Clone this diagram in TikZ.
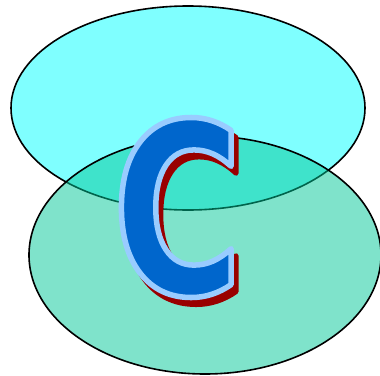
\documentclass[tikz,border=0pt]{standalone}
\usepackage{fontspec}
\usetikzlibrary{positioning}
\newfontfamily\logofont{DejaVu Sans}[FakeStretch=0.743]
\definecolor{mycyan}{RGB}{0,255,255}
\definecolor{mysea}{RGB}{0,200,152}
\definecolor{myblue}{RGB}{0,102,204}
\definecolor{myedge}{RGB}{153,204,255}
\definecolor{myshadow}{RGB}{153,0,0}
\tikzset{
  topdisc/.style={draw=black, line width=1.6pt, fill=mycyan, fill opacity=0.5},
  lowdisc/.style={draw=black, line width=1.6pt, fill=mysea, fill opacity=0.5},
  letter/.style={inner sep=0pt, font=\logofont\bfseries\fontsize{238}{238}\selectfont}
}
% outlined glyph: #1 = stroke width, #2 = stroke colour (rgb)
\newcommand{\strokedC}[2]{\special{pdf:literal direct 2 Tr 1 j 1 J #1 w #2 RG}C\special{pdf:literal direct 0 Tr}}

\begin{document}
\begin{tikzpicture}[x=1pt, y=-1pt]
  \useasboundingbox (0,0) rectangle (380,375);

  % Top ellipse
  \draw[topdisc] (188,108) ellipse [x radius=177, y radius=102];

  % Bottom ellipse
  \draw[lowdisc] (205,255) ellipse [x radius=176, y radius=119];

  % Letter with shadow
  \node[letter, text=myshadow] (shadow) at (182.5,214.5) {\strokedC{5}{0.6 0 0}};
  \node[letter, text=myblue] (logo) at (177.5,207.5) {\strokedC{5.5}{0.6 0.8 1}};
\end{tikzpicture}
\end{document}
